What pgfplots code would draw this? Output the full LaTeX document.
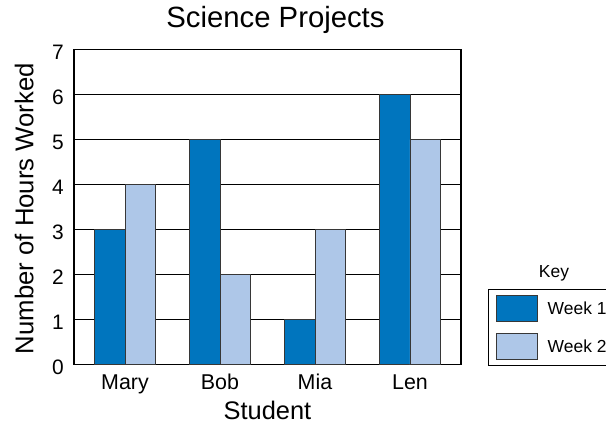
\documentclass[border=0pt]{standalone}
\usepackage{fontspec}
\setmainfont{Liberation Sans}
\usepackage{pgfplots}
\pgfplotsset{compat=1.18}
\definecolor{wkone}{RGB}{0,117,190}
\definecolor{wktwo}{RGB}{174,199,232}
\definecolor{edge}{RGB}{55,55,55}
\pgfplotsset{/pgfplots/ybar legend/.style={/pgfplots/legend image code/.code={%
  \path[fill=none, draw=none] (0bp,-19bp) rectangle (48.7bp,19bp);
  \draw[##1] (8bp,-13.3bp) rectangle (48.2bp,13.3bp);}}}
\begin{document}
\begin{tikzpicture}
\begin{axis}[
  at={(74bp,-364.5bp)}, anchor=south west,
  scale only axis, width=387bp, height=315bp,
  ybar=0pt, bar width=30.7bp,
  xmin=-0.537, xmax=3.537, ymin=0, ymax=7,
  xtick={0,1,2,3}, xticklabels={Mary,Bob,Mia,Len},
  ytick={0,1,2,3,4,5,6,7},
  major tick length=0pt,
  ymajorgrids, grid style={black, line width=1.3bp},
  axis line style={black, line width=1.4bp},
  /pgf/number format/assume math mode=true,
  yticklabel style={font=\fontsize{21}{21}\selectfont, anchor=east, inner sep=0pt, xshift=-10bp, yshift=-2.5bp},
  xticklabel style={font=\fontsize{21.5}{21.5}\selectfont, anchor=base, yshift=-24.8bp},
  xlabel={Student}, ylabel={Number of Hours Worked},
  xlabel style={font=\fontsize{25.5}{25.5}\selectfont, at={(axis description cs:0.5,0)}, anchor=base, yshift=-55bp},
  ylabel style={font=\fontsize{25.8}{25.8}\selectfont, at={(axis description cs:-0.129,0.495)}, anchor=center},
  title={Science Projects},
  title style={font=\fontsize{29.4}{29.4}\selectfont, at={(axis description cs:0.5207,1)}, anchor=base, yshift=16.2bp},
  legend style={at={(axis description cs:1.0706,0.2397)}, anchor=north west, draw=black, line width=1bp,
    inner sep=0pt, nodes={inner sep=0pt}, font=\fontsize{17.5}{17.5}\selectfont, row sep=0pt, column sep=10.2bp,
    cells={anchor=west}},
]
\addplot[fill=wkone, draw=edge, line width=0.8bp] coordinates {(0,3) (1,5) (2,1) (3,6)};
\addlegendentry{Week 1\hspace{10bp}}
\addplot[fill=wktwo, draw=edge, line width=0.8bp] coordinates {(0,4) (1,2) (2,3) (3,5)};
\addlegendentry{Week 2\hspace{10bp}}
\end{axis}
\node[anchor=base, font=\fontsize{17.5}{17.5}\selectfont] at (554bp,-277.3bp) {Key};
\pgfresetboundingbox
\path (0,0) rectangle (606bp,-423bp);
\end{tikzpicture}
\end{document}
